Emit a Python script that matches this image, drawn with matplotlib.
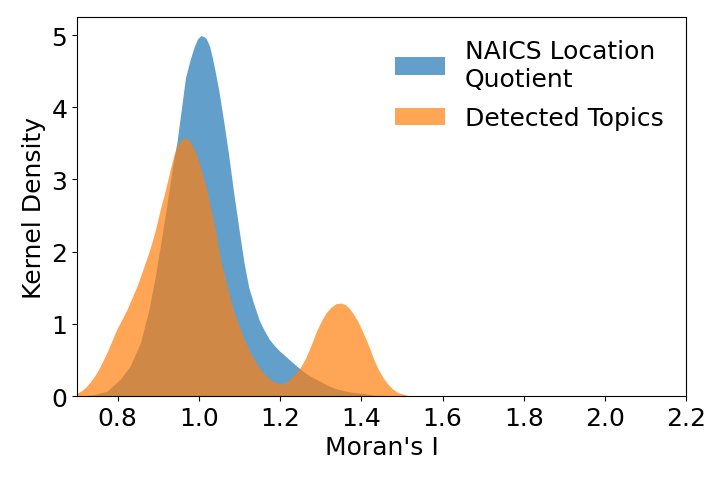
import numpy as np
import matplotlib
matplotlib.use("Agg")
import matplotlib.pyplot as plt

# Kurven (x = Moran's I, y = Dichte)
naics_x = [0.70, 0.74, 0.774, 0.807, 0.831, 0.856, 0.877, 0.893, 0.909, 0.922,
           0.934, 0.946, 0.955, 0.967, 0.978, 0.988, 0.996, 1.004, 1.012, 1.018,
           1.026, 1.033, 1.041, 1.049, 1.062, 1.074, 1.086, 1.099, 1.111, 1.123,
           1.135, 1.148, 1.160, 1.173, 1.186, 1.198, 1.210, 1.222, 1.236, 1.251,
           1.265, 1.280, 1.300, 1.321, 1.340, 1.362, 1.383, 1.403, 1.425, 1.444,
           1.47]
naics_y = [0.0, 0.02, 0.07, 0.24, 0.42, 0.74, 1.20, 1.67, 2.22, 2.68,
           3.14, 3.52, 3.90, 4.41, 4.65, 4.83, 4.94, 4.99, 4.98, 4.95,
           4.85, 4.69, 4.47, 4.23, 3.77, 3.31, 2.80, 2.30, 1.85, 1.50,
           1.28, 1.06, 0.92, 0.79, 0.70, 0.63, 0.57, 0.51, 0.44, 0.37,
           0.31, 0.26, 0.20, 0.14, 0.10, 0.07, 0.05, 0.04, 0.02, 0.01,
           0.0]

topics_x = [0.700, 0.712, 0.724, 0.737, 0.749, 0.762, 0.774, 0.786, 0.798, 0.811,
            0.823, 0.835, 0.848, 0.858, 0.868, 0.879, 0.889, 0.897, 0.905, 0.914,
            0.922, 0.930, 0.938, 0.946, 0.955, 0.963, 0.971, 0.980, 0.988, 0.996,
            1.004, 1.012, 1.020, 1.030, 1.041, 1.054, 1.062, 1.074, 1.086, 1.099,
            1.111, 1.123, 1.137, 1.152, 1.166, 1.181, 1.193, 1.204, 1.217, 1.230,
            1.240, 1.251, 1.262, 1.272, 1.280, 1.288, 1.296, 1.304, 1.314, 1.325,
            1.337, 1.350, 1.360, 1.370, 1.380, 1.391, 1.401, 1.412, 1.422, 1.432,
            1.442, 1.453, 1.465, 1.477, 1.490, 1.502, 1.515, 1.527]
topics_y = [0.04, 0.08, 0.14, 0.23, 0.33, 0.47, 0.61, 0.77, 0.93, 1.07,
            1.20, 1.36, 1.53, 1.69, 1.85, 2.03, 2.22, 2.40, 2.59, 2.78,
            2.96, 3.15, 3.33, 3.46, 3.54, 3.57, 3.57, 3.51, 3.42, 3.31,
            3.17, 3.01, 2.84, 2.57, 2.29, 1.86, 1.70, 1.42, 1.17, 0.97,
            0.80, 0.65, 0.50, 0.37, 0.28, 0.21, 0.18, 0.17, 0.20, 0.27,
            0.33, 0.41, 0.52, 0.65, 0.76, 0.88, 0.98, 1.07, 1.16, 1.23,
            1.28, 1.29, 1.27, 1.22, 1.14, 1.04, 0.92, 0.78, 0.64, 0.49,
            0.37, 0.26, 0.17, 0.10, 0.05, 0.03, 0.01, 0.0]

labels = ["NAICS Location\nQuotient", "Detected Topics"]
x_ticks = [0.8, 1.0, 1.2, 1.4, 1.6, 1.8, 2.0, 2.2]

fig, ax = plt.subplots(figsize=(7.27, 4.85), dpi=100)
fig.subplots_adjust(left=0.106, right=0.944, bottom=0.181, top=0.963)

ax.fill_between(naics_x, naics_y, color="tab:blue", alpha=0.7, linewidth=0, label=labels[0])
ax.fill_between(topics_x, topics_y, color="tab:orange", alpha=0.7, linewidth=0, label=labels[1])

ax.set_xlim(0.7, 2.2)
ax.set_ylim(0, 5.25)
ax.set_xticks(x_ticks)
ax.set_xticklabels([f"{t:.1f}" for t in x_ticks])
ax.set_yticks([0, 1, 2, 3, 4, 5])
ax.tick_params(labelsize=18)
ax.set_xlabel("Moran's I", fontsize=18)
ax.set_ylabel("Kernel Density", fontsize=18)
ax.legend(loc="upper right", frameon=False, fontsize=18, labelspacing=0.6)

plt.savefig("out.png")
